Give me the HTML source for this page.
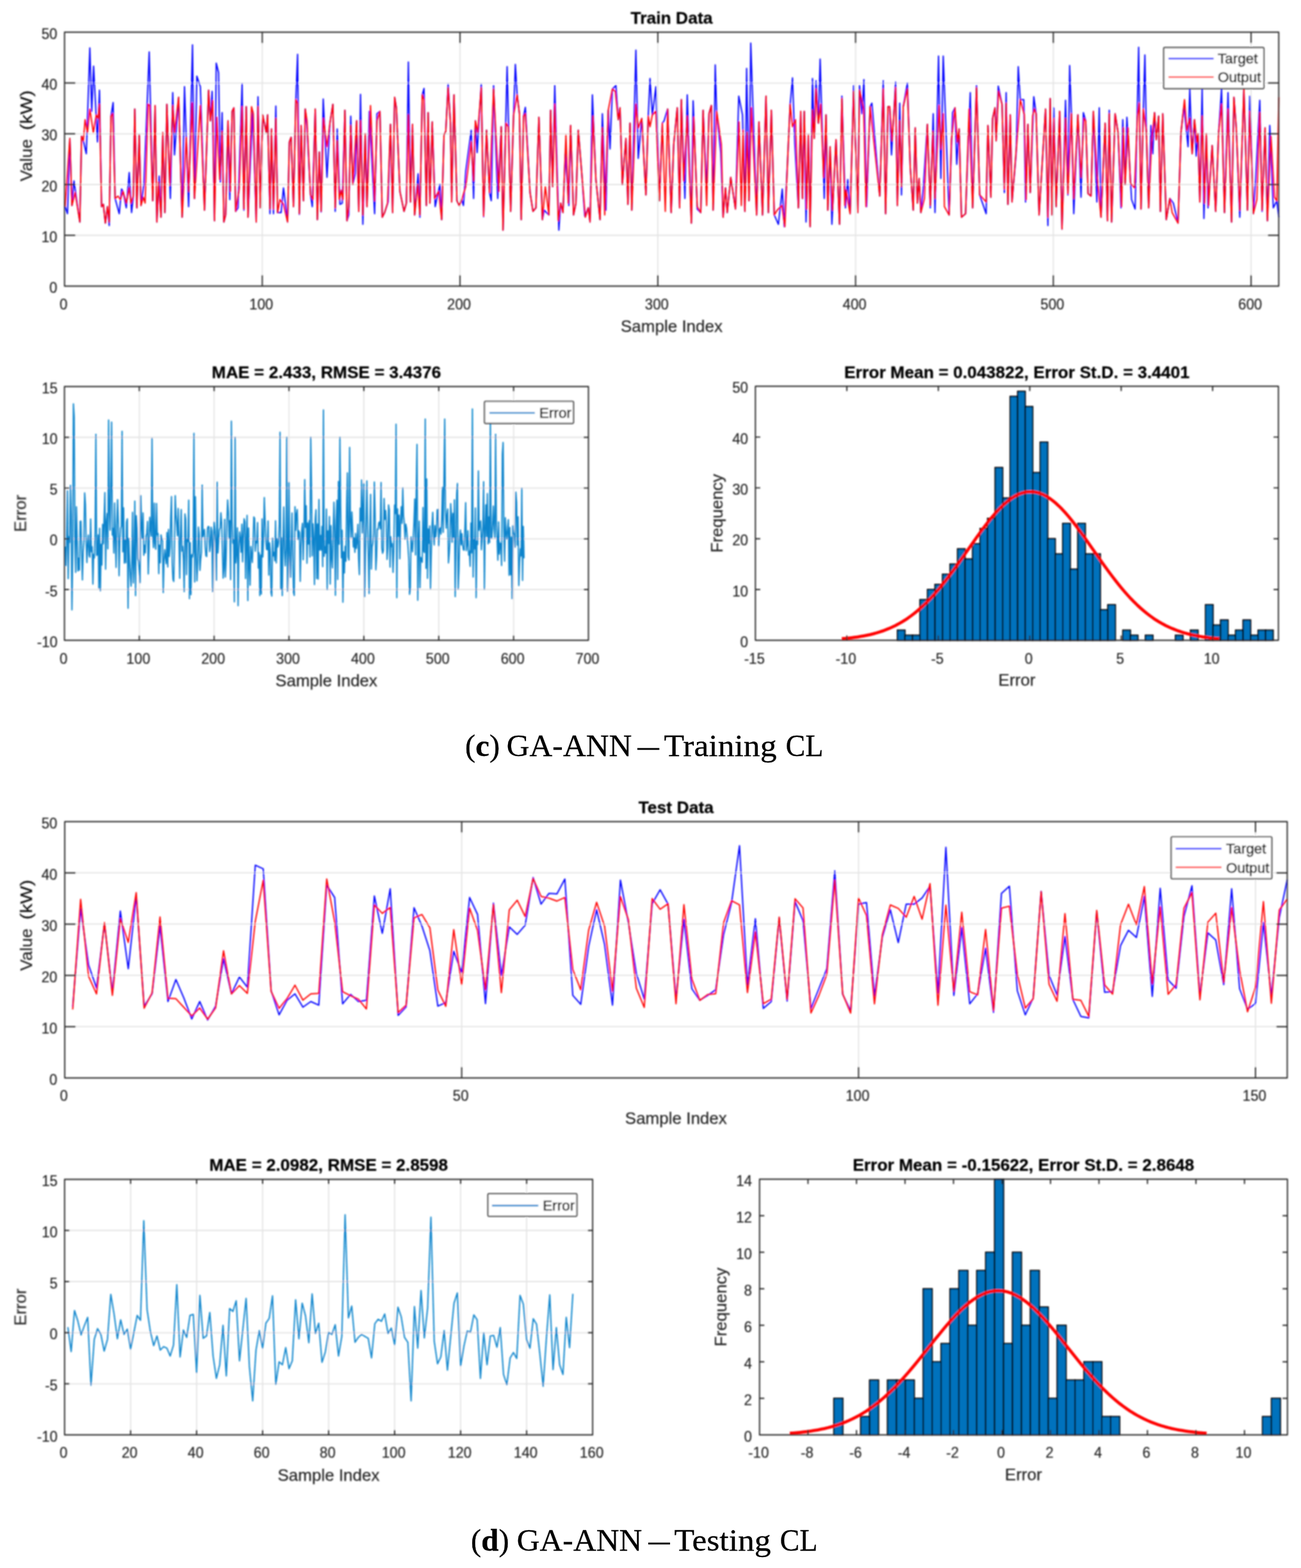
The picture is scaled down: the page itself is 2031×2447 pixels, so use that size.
<!DOCTYPE html>
<html><head><meta charset="utf-8"><title>GA-ANN CL</title>
<style>html,body{margin:0;padding:0;background:#fff}body{width:2031px;height:2447px;overflow:hidden}svg{display:block}</style>
</head><body>
<svg width="2031" height="2447" viewBox="0 0 2031 2447">
<style>text{font-family:'Liberation Sans', Arial, Helvetica, sans-serif;fill:#262626;stroke:#262626;stroke-width:0.25px}.tk{font-size:24.5px}.lb{font-size:26px}.tt{font-size:26.5px;font-weight:bold;fill:#000;stroke:#000;stroke-width:0.3px}.lg{font-size:22.5px;fill:#000;stroke:#000;stroke-width:0.5px}.cap{font-family:'Liberation Serif', 'Times New Roman', serif;font-size:49px;fill:#000;stroke:#000;stroke-width:0.3px}</style>
<rect width="2031" height="2447" fill="#fff"/>
<defs><filter id="bl" x="0" y="0" width="100%" height="100%" filterUnits="userSpaceOnUse"><feGaussianBlur stdDeviation="1.1"/></filter></defs><g filter="url(#bl)">
<path d="M409.43 50.3V446.5M718.16 50.3V446.5M1026.89 50.3V446.5M1335.62 50.3V446.5M1644.35 50.3V446.5M1953.08 50.3V446.5M100.7 367.26H1996.3M100.7 288.02H1996.3M100.7 208.78H1996.3M100.7 129.54H1996.3" stroke="#e4e4e4" stroke-width="1.8" fill="none"/>
<polyline points="101.67,322.53 105.34,333.55 109.02,216.05 112.32,320.69 115.44,282.14 124.62,346.4 127.37,212.38 130.13,219.72 134.72,239.92 140.23,74.69 143.16,173.82 146.1,103.14 152.16,221.56 155.28,140.78 158.58,322.53 161.34,318.86 164.46,348.23 167.76,322.53 170.52,351.9 173.27,181.17 176.58,160.06 179.7,309.68 186.12,333.55 189.79,294.99 192,298.66 197.14,324.37 201.73,269.29 205.4,331.71 208.15,306.01 210.36,170.15 213.66,324.37 217.33,210.54 220.09,320.69 224.68,287.65 232.94,81.11 238.44,313.35 242.12,164.64 244.87,346.4 248.54,274.8 251.3,339.05 254.05,206.87 257.35,331.71 260.47,162.81 265.98,309.68 269.65,144.45 272.41,241.75 278.83,151.79 284.34,339.05 288.01,135.27 290.77,214.21 294.44,322.53 300.5,70.1 303.62,309.68 307.29,118.75 312.8,135.27 319.22,328.04 325.65,140.78 328.4,188.51 331.16,142.61 334.83,344.56 337.58,98.55 341.25,113.24 344.01,283.98 346.76,175.66 349.51,346.4 352.27,335.38 355.94,188.51 358.69,311.51 362.37,173.82 365.12,168.32 367.87,329.87 371.55,324.37 377.97,130.68 380.72,328.04 384.4,166.48 387.15,339.05 394.49,173.82 400,346.4 402.75,150.88 406.43,324.37 410.1,179.33 415.61,206.87 417.75,179.33 421.43,333.55 423.81,201.36 426.93,333.55 430.6,165.56 433.36,331.71 438.87,331.71 442.54,293.16 448.96,346.4 451.72,221.56 454.47,214.21 458.14,322.53 461.81,155.47 464.57,84.78 467.32,334.46 470.08,195.85 473.75,313.35 476.5,170.15 479.26,199.53 484.76,304.17 487.52,322.53 492.11,170.15 495.41,342.72 498.53,237.16 501.29,330.79 504.59,154.55 510.47,276.63 515.06,192.18 519.64,162.81 523.32,329.87 526.44,201.36 530.66,318.86 534.33,317.02 538.37,171.99 541.68,344.56 544.43,335.38 547.55,181.17 550.85,287.65 554.53,271.13 556.73,188.51 560.03,329.87 562.79,147.2 566.46,350.07 570.13,208.71 572.89,322.53 576.56,173.82 584.82,333.55 588.49,177.5 593.08,173.82 596.75,339.05 600.42,331.71 605.93,315.19 609.6,194.02 612.91,331.71 616.03,151.79 618.78,168.32 624.29,298.66 630.72,329.87 634.39,317.02 637.51,96.72 640.81,315.19 643.93,194.02 647.24,335.38 652.75,271.13 655.5,339.05 659.17,148.12 661.92,138.02 665.6,320.69 668.35,175.66 671.1,317.02 674.78,190.35 679.37,322.53 686.71,287.65 689.46,342.72 693.13,210.54 695.89,205.03 699.56,131.6 703.23,192.18 705.07,315.19 708.74,148.12 713.33,313.35 717,320.69 720.67,311.51 723.43,320.69 727.1,267.45 735.67,203.2 739.34,309.68 742.1,188.51 744.85,238.08 751.28,131.6 754.95,338.13 759.54,203.2 764.13,300.5 766.88,313.35 770.55,133.43 776.98,309.68 782.49,197.69 785.24,359.25 791.67,104.06 797.17,329.87 801.76,179.33 804.52,100.39 807.27,148.12 810.94,177.5 813.7,342.72 817.37,181.17 820.12,167.4 827.47,300.5 832.06,329.87 836.64,324.37 841.23,183 846.74,342.72 849.5,328.04 856.84,335.38 859.59,171.99 862.71,291.32 866.02,133.43 872.44,359.25 875.2,317.02 878.87,331.71 882.54,239.92 888.05,320.69 890.8,195.85 895.39,335.38 899.06,317.02 902.74,203.2 908.24,271.13 912.83,337.22 918.34,324.37 921.09,346.4 924.77,148.12 930.27,280.3 936.7,342.72 940.37,177.5 945.88,328.04 949.55,171.99 952.3,232.57 955.98,138.94 961.48,133.43 965.16,186.68 967.91,168.32 971.58,287.65 977.09,216.05 980.21,318.86 983.51,192.18 986.27,328.04 992.69,78.36 996.37,247.26 1001.87,184.84 1008.3,304.17 1011.97,181.17 1014.72,122.42 1018.4,179.33 1023.9,135.27 1029.41,313.35 1034,192.18 1036.75,188.51 1042.26,170.15 1047.77,331.71 1051.75,225.23 1057.26,168.32 1060.93,324.37 1063.69,155.47 1069.19,309.68 1072.87,148.12 1079.29,348.23 1082.05,157.3 1088.47,326.2 1093.98,331.71 1097.65,171.99 1103.16,294.99 1106.83,177.5 1110.5,164.64 1113.26,328.04 1116.56,101.31 1118.76,173.82 1125.19,238.08 1128.86,339.05 1132.53,293.16 1135.29,331.71 1140.79,276.63 1148.14,326.2 1153.28,149.96 1159.15,179.33 1162.82,329.87 1165.58,106.81 1169.25,313.35 1172,67.34 1181.18,335.38 1184.85,190.35 1190.36,335.38 1195.87,149.96 1199.54,331.71 1204.13,171.99 1208.72,335.38 1215.15,350.07 1221.2,294.99 1224.33,353.74 1229.83,243.59 1233.51,162.81 1237.18,121.5 1240.85,225.23 1246.36,324.37 1250.03,173.82 1252.78,309.68 1255.54,173.82 1258.29,346.4 1261.96,210.54 1264.72,353.74 1268.39,122.42 1271.14,216.05 1273.89,126.09 1277.57,192.18 1280.32,92.13 1286.75,309.68 1289.5,179.33 1292.25,328.04 1295.92,228.9 1298.68,350.07 1305.1,217.89 1310.61,350.07 1314.28,149.96 1319.79,324.37 1323.46,280.3 1327.13,333.55 1332.64,133.43 1339.07,331.71 1341.82,133.43 1345.49,177.5 1348.61,124.26 1352.84,322.53 1358.34,166.48 1361.1,160.97 1373.34,306.01 1378.85,126.09 1382.52,333.55 1386.19,166.48 1388.95,166.48 1391.7,241.75 1398.13,127.93 1400.88,320.69 1404.55,160.97 1407.31,304.17 1410.06,166.48 1416.49,129.76 1421.08,261.95 1425.67,328.04 1428.79,199.53 1432.09,317.02 1434.85,278.47 1437.6,331.71 1441.27,294.99 1447.7,194.02 1452.29,324.37 1456.88,177.5 1459.63,331.71 1465.14,87.54 1468.81,278.47 1472.48,87.54 1481.66,335.38 1487.17,175.66 1490.84,168.32 1493.59,256.44 1497.26,201.36 1500.94,339.05 1507.36,333.55 1514.71,144.45 1518.38,324.37 1524.44,133.43 1529.39,304.17 1539.49,333.55 1542.24,195.85 1546.83,307.84 1549.59,184.84 1553.26,168.32 1555.09,219.72 1558.4,134.35 1564.27,162.81 1567.95,300.5 1570.7,144.45 1573.45,318.86 1577.13,179.33 1579.88,315.19 1586.3,239.92 1589.61,104.06 1592.73,155.47 1598.24,155.47 1600.99,315.19 1604.66,194.02 1608.34,300.5 1613.84,150.88 1617.51,177.5 1622.1,335.38 1632.2,170.15 1635.87,351.9 1639.55,153.63 1642.3,335.38 1645.05,168.32 1648.72,322.53 1654.23,173.82 1657.9,357.41 1663.41,156.38 1667.08,304.17 1669.84,102.23 1672.59,177.5 1676.26,333.55 1682.69,179.33 1687.59,307.84 1691.26,175.66 1694.93,188.51 1698.6,302.34 1703.19,306.01 1706.87,173.82 1712.37,315.19 1716.05,168.32 1718.8,339.05 1725.23,192.18 1728.9,344.56 1731.65,171.99 1735.32,346.4 1740.83,177.5 1745.42,206.87 1750.01,324.37 1752.76,186.68 1756.43,287.65 1759.19,183 1766.53,311.51 1772.04,326.2 1777.55,73.77 1781.22,326.2 1784.89,170.15 1787.28,85.7 1789.48,203.2 1793.15,324.37 1796.82,195.85 1799.58,239.92 1802.33,175.66 1805.09,217.89 1808.76,181.17 1811.51,329.87 1815.18,177.5 1820.69,342.72 1826.2,309.68 1831.71,317.02 1839.05,348.23 1843.64,206.87 1848.23,166.48 1854.65,228.9 1857.41,138.94 1861.08,239.92 1864.75,186.68 1867.51,243.59 1870.26,208.71 1873.01,315.19 1876.68,138.94 1879.44,340.89 1883.11,208.71 1885.86,324.37 1892.29,227.06 1897.8,329.87 1902.39,206.87 1906.98,138.94 1911.57,331.71 1917.07,144.45 1922.58,346.4 1926.25,151.79 1929.92,199.53 1935.43,339.05 1941.86,138.94 1947.37,328.04 1951.04,149.96 1956.55,333.55 1960.22,280.3 1966.64,156.38 1970.31,329.87 1974.9,199.53 1978.58,344.56 1982.25,195.85 1987.75,324.37 1993.26,313.35 1996.38,339.05" fill="none" stroke="#0000ff" stroke-width="2.0" stroke-linejoin="round" stroke-opacity="1"/>
<polyline points="101.67,322.53 109.02,216.05 112.32,320.69 117.28,300.5 124.62,346.4 127.37,212.38 130.13,219.72 132.88,186.68 136.55,206.87 140.23,170.15 145.73,206.87 150.32,179.33 153.08,184.84 155.28,162.81 158.58,322.53 161.34,318.86 164.46,348.23 167.76,322.53 170.52,346.4 173.27,181.17 176.02,177.5 179.7,309.68 184.29,306.01 187.96,311.51 192,298.66 197.14,317.02 201.73,293.16 204.48,317.02 208.15,306.01 210.36,170.15 213.66,324.37 217.33,210.54 220.09,320.69 223.76,307.84 226.51,317.02 231.1,162.81 233.85,164.64 238.44,313.35 242.12,164.64 244.87,346.4 247.62,283.98 251.3,339.05 254.05,206.87 257.35,331.71 260.47,162.81 265.06,289.48 269.65,164.64 272.41,206.87 278.83,151.79 284.34,339.05 290.77,214.21 294.44,298.66 299.95,160.97 303.62,309.68 312.8,164.64 319.22,328.04 325.65,140.78 328.4,188.51 332.07,157.3 334.83,344.56 338.5,183 343.09,280.3 346.76,205.03 349.51,346.4 352.27,335.38 355.94,188.51 359.61,298.66 362.37,173.82 365.12,168.32 367.87,329.87 373.38,294.99 377.97,166.48 380.72,326.2 384.4,166.48 387.15,339.05 392.66,166.48 395.41,177.5 400,346.4 402.75,166.48 406.43,324.37 410.1,179.33 415.61,206.87 417.75,179.33 421.43,326.2 423.81,201.36 426.93,326.2 430.6,184.84 433.36,331.71 437.03,311.51 442.54,318.86 448.96,346.4 451.72,221.56 454.47,214.21 458.14,322.53 461.81,155.47 464.57,160.97 467.32,333.55 470.08,195.85 473.75,313.35 476.5,170.15 479.26,188.51 484.76,304.17 488.43,311.51 492.11,170.15 495.41,342.72 498.53,237.16 501.29,329.87 504.96,184.84 510.47,228.9 515.06,192.18 519.64,162.81 523.32,324.37 526.44,219.72 529.74,311.51 532.5,296.83 535.25,311.51 538.37,171.99 541.68,344.56 544.43,322.53 547.55,195.85 550.85,287.65 556.73,188.51 560.03,329.87 562.79,188.51 566.46,335.38 570.13,208.71 572.89,322.53 578.39,164.64 584.82,313.35 588.49,188.51 593.08,173.82 596.75,339.05 600.42,331.71 605.01,317.02 609.6,194.02 612.91,331.71 616.03,151.79 618.78,168.32 624.29,298.66 630.72,329.87 634.39,317.02 637.51,179.33 640.81,315.19 643.93,194.02 647.24,335.38 652.19,287.65 655.5,335.38 659.17,148.12 661.92,155.47 665.6,320.69 668.35,175.66 671.1,317.02 674.78,190.35 678.45,309.68 684.87,298.66 689.46,342.72 693.13,210.54 695.89,205.03 699.56,137.11 703.23,192.18 705.07,315.19 708.74,148.12 713.33,313.35 717,320.69 720.67,311.51 727.1,291.32 735.67,221.56 739.34,282.14 742.1,188.51 745.77,206.87 751.28,137.11 754.95,337.22 759.54,203.2 764.13,300.5 770.55,138.94 778.81,298.66 782.49,197.69 785.24,359.25 789.83,192.18 793.5,197.69 797.17,329.87 801.76,179.33 807.27,148.12 810.94,177.5 813.7,342.72 817.37,181.17 820.12,177.5 827.47,300.5 832.06,329.87 836.64,324.37 841.23,183 846.74,342.72 851.33,291.32 856.84,335.38 859.59,171.99 862.71,291.32 866.02,162.81 871.53,344.56 875.2,317.02 878.87,331.71 883.46,210.54 887.13,317.02 890.8,195.85 895.39,335.38 899.06,317.02 902.74,203.2 908.24,271.13 913.75,339.05 918.34,324.37 921.09,346.4 925.68,181.17 930.27,280.3 936.7,342.72 940.37,199.53 944.04,335.38 949.55,171.99 955.98,138.94 960.57,142.61 965.16,186.68 967.91,168.32 971.58,287.65 977.09,216.05 980.21,318.86 983.51,192.18 986.27,328.04 992.69,162.81 996.37,199.53 1001.87,184.84 1008.3,304.17 1011.97,181.17 1014.72,197.69 1018.4,179.33 1023.9,173.82 1029.41,313.35 1034,192.18 1038.59,329.87 1042.26,170.15 1047.77,331.71 1051.75,225.23 1057.26,168.32 1060.93,324.37 1063.69,155.47 1067.36,282.14 1072.87,181.17 1079.29,348.23 1082.96,183 1088.47,322.53 1093.98,331.71 1097.65,171.99 1103.16,320.69 1106.83,177.5 1110.5,164.64 1113.26,328.04 1118.76,173.82 1126.11,225.23 1128.86,339.05 1132.53,293.16 1135.29,331.71 1140.79,276.63 1148.14,326.2 1153.64,190.35 1157.32,320.69 1160.07,203.2 1162.82,329.87 1166.5,206.87 1169.25,313.35 1172.92,168.32 1181.18,335.38 1184.85,190.35 1190.36,335.38 1195.87,149.96 1199.54,331.71 1204.13,171.99 1208.72,335.38 1213.31,328.04 1220.65,320.69 1225.24,353.74 1229.83,243.59 1233.51,162.81 1237.18,197.69 1241.77,186.68 1246.36,324.37 1250.03,173.82 1252.78,309.68 1255.54,173.82 1259.21,326.2 1261.96,210.54 1264.72,353.74 1268.39,171.99 1271.14,216.05 1273.89,138.94 1277.57,192.18 1281.24,162.81 1285.83,276.63 1289.5,179.33 1292.25,328.04 1295.92,228.9 1299.6,328.04 1305.1,217.89 1310.61,350.07 1314.28,153.63 1318.87,320.69 1320.71,296.83 1327.13,333.55 1332.64,142.61 1339.07,331.71 1341.82,140.78 1348.25,170.15 1351.92,322.53 1358.34,166.48 1373.34,306.01 1378.85,138.94 1382.52,333.55 1386.19,166.48 1388.95,166.48 1392.62,219.72 1398.13,137.11 1400.88,320.69 1404.55,188.51 1407.31,291.32 1410.06,166.48 1416.49,138.94 1421.08,261.95 1425.67,328.04 1428.79,199.53 1432.09,317.02 1434.85,278.47 1437.6,331.71 1443.11,309.68 1447.7,194.02 1452.29,320.69 1456.32,205.03 1459.63,309.68 1466.06,164.64 1468.81,232.57 1472.48,177.5 1474.32,322.53 1481.66,335.38 1485.33,217.89 1490.84,168.32 1494.51,221.56 1497.26,201.36 1500.94,339.05 1507.36,333.55 1512.87,170.15 1518.38,324.37 1524.44,137.11 1529.39,304.17 1539.49,315.19 1542.24,195.85 1546.83,307.84 1549.59,184.84 1553.26,168.32 1555.09,219.72 1558.77,142.61 1564.27,162.81 1567.95,294.99 1570.7,160.97 1573.45,318.86 1577.13,179.33 1579.88,315.19 1589.06,201.36 1592.73,155.47 1599.16,179.33 1601.91,311.51 1604.66,194.02 1608.34,300.5 1612.01,181.17 1614.76,170.15 1617.51,177.5 1622.1,335.38 1632.2,170.15 1635.87,339.05 1639.55,153.63 1642.3,335.38 1645.05,184.84 1648.72,322.53 1654.23,173.82 1657.9,357.41 1663.41,184.84 1667.08,302.34 1672.59,177.5 1676.26,309.68 1682.69,179.33 1687.59,276.63 1692.18,184.84 1694.93,188.51 1698.6,302.34 1703.19,306.01 1706.87,173.82 1712.37,271.13 1718.8,339.05 1725.23,192.18 1728.9,344.56 1731.65,177.5 1735.32,346.4 1740.83,177.5 1745.42,206.87 1750.93,322.53 1753.68,199.53 1756.43,287.65 1761.02,199.53 1764.7,285.81 1771.12,293.16 1775.71,181.17 1778.47,160.97 1781.22,326.2 1784.89,170.15 1789.48,203.2 1793.15,324.37 1797.74,221.56 1802.33,175.66 1805.09,217.89 1808.76,181.17 1811.51,329.87 1815.18,177.5 1820.69,342.72 1826.2,309.68 1829.87,331.71 1839.05,348.23 1843.64,206.87 1849.15,155.47 1852.82,203.2 1857.41,184.84 1861.08,239.92 1864.75,186.68 1868.42,221.56 1870.26,208.71 1873.01,315.19 1876.68,181.17 1880.36,317.02 1883.11,208.71 1886.78,320.69 1892.29,227.06 1897.8,329.87 1902.39,206.87 1906.98,162.81 1911.57,331.71 1917.07,170.15 1922.58,346.4 1926.25,151.79 1929.92,199.53 1935.43,328.04 1941.86,138.94 1947.37,328.04 1951.04,173.82 1956.55,333.55 1962.05,311.51 1966.64,175.66 1970.31,328.04 1974.9,199.53 1978.58,344.56 1984.08,212.38 1989.59,307.84 1993.26,313.35 1996.38,151.79" fill="none" stroke="#ff0000" stroke-width="2.0" stroke-linejoin="round" stroke-opacity="1"/>
<path d="M409.43 446.5v-17M409.43 50.3v17M718.16 446.5v-17M718.16 50.3v17M1026.89 446.5v-17M1026.89 50.3v17M1335.62 446.5v-17M1335.62 50.3v17M1644.35 446.5v-17M1644.35 50.3v17M1953.08 446.5v-17M1953.08 50.3v17M100.7 367.26h17M1996.3 367.26h-17M100.7 288.02h17M1996.3 288.02h-17M100.7 208.78h17M1996.3 208.78h-17M100.7 129.54h17M1996.3 129.54h-17" stroke="#262626" stroke-width="1.9" fill="none"/>
<rect x="100.7" y="50.3" width="1895.6" height="396.2" fill="none" stroke="#262626" stroke-width="1.9" stroke-linejoin="round"/>
<text transform="translate(99.2 482.5) scale(0.91 1)" text-anchor="middle" class="tk">0</text>
<text transform="translate(407.93 482.5) scale(0.91 1)" text-anchor="middle" class="tk">100</text>
<text transform="translate(716.66 482.5) scale(0.91 1)" text-anchor="middle" class="tk">200</text>
<text transform="translate(1025.39 482.5) scale(0.91 1)" text-anchor="middle" class="tk">300</text>
<text transform="translate(1334.12 482.5) scale(0.91 1)" text-anchor="middle" class="tk">400</text>
<text transform="translate(1642.85 482.5) scale(0.91 1)" text-anchor="middle" class="tk">500</text>
<text transform="translate(1951.58 482.5) scale(0.91 1)" text-anchor="middle" class="tk">600</text>
<text transform="translate(89.5 457.1) scale(0.91 1)" text-anchor="end" class="tk">0</text>
<text transform="translate(89.5 377.86) scale(0.91 1)" text-anchor="end" class="tk">10</text>
<text transform="translate(89.5 298.62) scale(0.91 1)" text-anchor="end" class="tk">20</text>
<text transform="translate(89.5 219.38) scale(0.91 1)" text-anchor="end" class="tk">30</text>
<text transform="translate(89.5 140.14) scale(0.91 1)" text-anchor="end" class="tk">40</text>
<text transform="translate(89.5 60.9) scale(0.91 1)" text-anchor="end" class="tk">50</text>
<text x="1048.5" y="37" text-anchor="middle" class="tt" >Train Data</text>
<text x="1048.5" y="518" text-anchor="middle" class="lb" >Sample Index</text>
<text transform="translate(50 283) rotate(-90)" class="lb" textLength="66" lengthAdjust="spacingAndGlyphs">Value</text>
<text transform="translate(50 203) rotate(-90)" class="lb" textLength="62" lengthAdjust="spacingAndGlyphs" style="fill:#111">(kW)</text>
<rect x="1816.7" y="74.2" width="156.3" height="64" fill="#fff" stroke="#262626" stroke-width="1.9" rx="1.5"/>
<path d="M1824 91.4H1894.5" stroke="#0000ff" stroke-width="2.2"/>
<text x="1901" y="99.4" class="lg">Target</text>
<path d="M1824 120.2H1894.5" stroke="#ff0000" stroke-width="2.2"/>
<text x="1901" y="128.2" class="lg">Output</text>
<path d="M217.46 603.3V999.2M334.31 603.3V999.2M451.17 603.3V999.2M568.03 603.3V999.2M684.89 603.3V999.2M801.74 603.3V999.2M100.6 920.02H918.6M100.6 840.84H918.6M100.6 761.66H918.6M100.6 682.48H918.6" stroke="#e4e4e4" stroke-width="1.8" fill="none"/>
<polyline points="101.77,853.01 102.94,882.38 104.11,839.99 105.27,765.98 106.44,902.95 107.61,837.51 108.78,846.39 109.95,757.41 111.12,802.63 112.29,951.69 113.45,863.51 114.62,630.22 115.79,650.81 116.96,845.91 118.13,893.34 119.3,791.11 120.47,839.9 121.63,891.06 122.8,870.93 123.97,889.66 125.14,813.59 126.31,813.23 127.48,860.31 128.65,905.07 129.81,861.28 130.98,843.71 132.15,769.25 133.32,787.57 134.49,844.74 135.66,877.86 136.83,847.83 137.99,834.93 139.16,867.02 140.33,869.57 141.5,809.9 142.67,861.02 143.84,853.3 145.01,911.5 146.17,864.98 147.34,870.6 148.51,829.72 149.68,677.73 150.85,866.66 152.02,865.57 153.19,834.75 154.35,917.96 155.52,824.41 156.69,921.98 157.86,849.36 159.03,881.71 160.2,818.18 161.37,848.52 162.53,808.34 163.7,768.84 164.87,888.19 166.04,815.02 167.21,801.21 168.38,856.55 169.55,655.56 170.71,797.05 171.88,827.35 173.05,752.08 174.22,658.73 175.39,835.05 176.56,824.59 177.73,863.01 178.89,785.12 180.06,839.9 181.23,885.53 182.4,819.29 183.57,779.64 184.74,817.91 185.91,898.56 187.07,845.33 188.24,824.98 189.41,820.98 190.58,672.98 191.75,861.24 192.92,792.61 194.09,878.79 195.25,842.74 196.42,878.23 197.59,814.82 198.76,809.66 199.93,949.32 201.1,840.34 202.27,874.72 203.43,898.37 204.6,914.81 205.77,878.42 206.94,799.46 208.11,909.65 209.28,877.46 210.45,782.01 211.61,929.52 212.78,804.73 213.95,824.22 215.12,872.13 216.29,875.68 217.46,891.8 218.63,909.44 219.79,773.52 220.96,818.24 222.13,839.96 223.3,800.41 224.47,866.56 225.64,850.96 226.81,862.69 227.97,836.84 229.14,832.15 230.31,813.87 231.48,895.81 232.65,856.26 233.82,807.23 234.99,823.85 236.15,836.55 237.32,684.06 238.49,837.78 239.66,854.62 240.83,785.22 242,848.01 243.17,857.07 244.33,785.65 245.5,834.65 246.67,832.56 247.84,895.3 249.01,850.65 250.18,878.29 251.35,834.85 252.51,840.41 253.68,843.54 254.85,924.77 256.02,874.21 257.19,857.83 258.36,870.97 259.53,879.62 260.69,831.11 261.86,884.84 263.03,826.21 264.2,868.51 265.37,854.11 266.54,806.45 267.71,775 268.87,879.25 270.04,904.19 271.21,907.49 272.38,850.99 273.55,773.6 274.72,802.76 275.89,818.3 277.05,836.07 278.22,793.47 279.39,840.4 280.56,902.55 281.73,835.91 282.9,795.24 284.07,859.94 285.23,852.85 286.4,873.34 287.57,923.19 288.74,802.09 289.91,810.34 291.08,896.72 292.25,841.71 293.41,845.25 294.58,780.45 295.75,934.23 296.92,846.91 298.09,927.94 299.26,865.7 300.43,869.46 301.59,861.1 302.76,676.15 303.93,908.26 305.1,775.28 306.27,863.86 307.44,906.41 308.61,878.3 309.77,822.54 310.94,834.15 312.11,890.09 313.28,872.74 314.45,861.86 315.62,757.02 316.79,837.65 317.95,831.96 319.12,826.21 320.29,853.14 321.46,867.29 322.63,868.44 323.8,825.45 324.97,821.57 326.13,821.98 327.3,860.74 328.47,851.53 329.64,822.63 330.81,829.03 331.98,923.19 333.15,846.91 334.31,814.63 335.48,826.77 336.65,848 337.82,905.43 338.99,752.47 340.16,862.87 341.33,844.55 342.49,826.64 343.66,824.09 344.83,800.14 346,815.93 347.17,857.54 348.34,902.26 349.51,887.53 350.67,810.43 351.84,900.53 353.01,871.38 354.18,815.12 355.35,780.31 356.52,798.66 357.69,839.61 358.85,812.51 360.02,904.61 361.19,657.14 362.36,814.3 363.53,847.77 364.7,842.5 365.87,939.19 367.03,682.48 368.2,878.42 369.37,860.43 370.54,823.7 371.71,945.36 372.88,856.52 374.05,830.28 375.21,841.29 376.38,861.71 377.55,818.1 378.72,876.8 379.89,838.94 381.06,809.42 382.23,813.98 383.39,902.86 384.56,840.68 385.73,804.35 386.9,937.15 388.07,823.97 389.24,883.31 390.41,913.29 391.57,852.94 392.74,865.92 393.91,877.69 395.08,845.57 396.25,806.8 397.42,808.72 398.59,860.14 399.75,845.01 400.92,847.04 402.09,815.57 403.26,886.52 404.43,862.4 405.6,929.52 406.77,866.35 407.93,927.02 409.1,809.86 410.27,869.32 411.44,839.3 412.61,776.42 413.78,812.09 414.95,842.37 416.11,857.53 417.28,857.73 418.45,813.1 419.62,897.57 420.79,847.2 421.96,860.74 423.13,924.77 424.29,930.2 425.46,839.65 426.63,867.43 427.8,862.1 428.97,875.14 430.14,812.71 431.31,878.59 432.47,840.73 433.64,853.87 434.81,848.17 435.98,818.07 437.15,674.56 438.32,919.19 439.49,839.53 440.65,929.52 441.82,846.58 442.99,791.28 444.16,857.67 445.33,883.02 446.5,857.95 447.67,682.48 448.83,922.73 450,880.87 451.17,753.03 452.34,864.66 453.51,900.87 454.68,851.19 455.85,800.44 457.01,866.77 458.18,924.23 459.35,929.31 460.52,790.82 461.69,827.39 462.86,802.22 464.03,795.3 465.19,841.67 466.36,828.3 467.53,830.9 468.7,907.17 469.87,852.54 471.04,827.53 472.21,816.85 473.37,873.54 474.54,830.18 475.71,748.56 476.88,822.89 478.05,789.26 479.22,878.88 480.39,816.13 481.55,848.92 482.72,812.43 483.89,869.14 485.06,682.48 486.23,755.17 487.4,867.48 488.57,817.53 489.73,840.12 490.9,912.22 492.07,810.46 493.24,795.59 494.41,902.96 495.58,817.73 496.75,903.7 497.91,779.46 499.08,858.49 500.25,835.43 501.42,858.53 502.59,821.52 503.76,884.27 504.93,639.72 506.09,868.22 507.26,853.24 508.43,863.01 509.6,794.51 510.77,920.02 511.94,828.53 513.11,847.99 514.27,806.16 515.44,911.49 516.61,820.15 517.78,870.05 518.95,886.27 520.12,833.66 521.29,783.83 522.45,828.68 523.62,929 524.79,812.34 525.96,780.6 527.13,904.14 528.3,751.6 529.47,849.31 530.63,682.48 531.8,791.04 532.97,870.51 534.14,827.4 535.31,939.82 536.48,861.31 537.65,894.11 538.81,852.61 539.98,875.75 541.15,788.6 542.32,737.91 543.49,869.19 544.66,874.04 545.83,698.32 546.99,812.18 548.16,838.66 549.33,798.96 550.5,826.41 551.67,853.61 552.84,839.44 554.01,862.01 555.17,832.45 556.34,855.83 557.51,845.29 558.68,818.19 559.85,873.29 561.02,896.64 562.19,793 563.35,812.96 564.52,749.01 565.69,831.76 566.86,794.31 568.03,754.75 569.2,931.11 570.37,865.54 571.53,810.91 572.7,750.57 573.87,826.89 575.04,868.08 576.21,926.35 577.38,830.75 578.55,771.4 579.71,887.91 580.88,853.28 582.05,847.79 583.22,832.43 584.39,752.13 585.56,803.19 586.73,889.17 587.89,868.72 589.06,825.79 590.23,825.9 591.4,815.78 592.57,814.32 593.74,825.15 594.91,752.96 596.07,855.12 597.24,863.48 598.41,859.36 599.58,777.94 600.75,810.4 601.92,796.8 603.09,814.72 604.25,872.98 605.42,854.7 606.59,788.03 607.76,795.87 608.93,885.01 610.1,837.86 611.27,852.94 612.43,848.36 613.6,893.25 614.77,858.07 615.94,788.27 617.11,801.58 618.28,661.89 619.45,932.69 620.61,794.25 621.78,836.39 622.95,803.71 624.12,872.1 625.29,812.45 626.46,790.69 627.63,816.7 628.79,761.51 629.96,805.22 631.13,815.08 632.3,841.5 633.47,818.02 634.64,824.13 635.81,838.63 636.97,853.96 638.14,872.33 639.31,927.51 640.48,920.16 641.65,837.92 642.82,849.74 643.99,861.06 645.15,837.74 646.32,813.18 647.49,778.69 648.66,865.97 649.83,762.48 651,693.57 652.17,936.85 653.33,844.79 654.5,813.28 655.67,917.14 656.84,869.83 658.01,873.97 659.18,877.53 660.35,792.02 661.51,860.65 662.68,862.21 663.85,653.98 665.02,887.02 666.19,747.62 667.36,902.4 668.53,825.57 669.69,847.69 670.86,820.79 672.03,918.64 673.2,866.81 674.37,820.96 675.54,799.45 676.71,832.01 677.87,850.45 679.04,820.17 680.21,837.82 681.38,826.31 682.55,795.78 683.72,794.87 684.89,851.68 686.05,826.14 687.22,823.81 688.39,833.55 689.56,810.72 690.73,760.62 691.9,830.63 693.07,748.78 694.23,653.98 695.4,795.72 696.57,824.27 697.74,803.69 698.91,794.38 700.08,878.5 701.25,864.24 702.41,843.54 703.58,785.98 704.75,802.95 705.92,846.26 707.09,801.31 708.26,838.59 709.43,780.1 710.59,931.11 711.76,861.59 712.93,771.16 714.1,754.61 715.27,919.19 716.44,890.38 717.61,840.51 718.77,827.17 719.94,850.32 721.11,832.79 722.28,850.08 723.45,858.15 724.62,858.62 725.79,823.8 726.95,784.58 728.12,859.27 729.29,849.45 730.46,828.3 731.63,866.31 732.8,860.11 733.97,883.72 735.13,816.33 736.3,862.84 737.47,638.14 738.64,900.47 739.81,842.23 740.98,856.56 742.15,792.63 743.31,932.63 744.48,844.43 745.65,849.83 746.82,735.02 747.99,827.52 749.16,816.61 750.33,813.07 751.49,857.85 752.66,840.92 753.83,821.02 755,751.82 756.17,919.6 757.34,827.73 758.51,787.77 759.67,837.3 760.84,770.35 762.01,848.68 763.18,806.87 764.35,846.67 765.52,657.14 766.69,839.27 767.85,839.5 769.02,817.71 770.19,789.78 771.36,824.42 772.53,839.36 773.7,677.73 774.87,815.39 776.03,841.68 777.2,874.25 778.37,814.43 779.54,864.7 780.71,847.46 781.88,848.36 783.05,882.5 784.21,709.4 785.38,690.4 786.55,823.95 787.72,875.65 788.89,807.96 790.06,831.67 791.23,840.99 792.39,824.61 793.56,811.09 794.73,897.85 795.9,823.29 797.07,896.91 798.24,838.24 799.41,934.23 800.57,820.42 801.74,833.09 802.91,833.15 804.08,854.01 805.25,767.89 806.42,783.83 807.59,850.84 808.75,806.6 809.92,913.69 811.09,878.46 812.26,856.59 813.43,867.71 814.6,761.95 815.77,905.77 816.93,821.59 818.1,871.35" fill="none" stroke="#0a84cc" stroke-width="2.0" stroke-linejoin="round" stroke-opacity="1"/>
<path d="M217.46 999.2v-7.5M217.46 603.3v7.5M334.31 999.2v-7.5M334.31 603.3v7.5M451.17 999.2v-7.5M451.17 603.3v7.5M568.03 999.2v-7.5M568.03 603.3v7.5M684.89 999.2v-7.5M684.89 603.3v7.5M801.74 999.2v-7.5M801.74 603.3v7.5M100.6 920.02h7.5M918.6 920.02h-7.5M100.6 840.84h7.5M918.6 840.84h-7.5M100.6 761.66h7.5M918.6 761.66h-7.5M100.6 682.48h7.5M918.6 682.48h-7.5" stroke="#262626" stroke-width="1.9" fill="none"/>
<rect x="100.6" y="603.3" width="818" height="395.9" fill="none" stroke="#262626" stroke-width="1.9" stroke-linejoin="round"/>
<text transform="translate(99.1 1036) scale(0.91 1)" text-anchor="middle" class="tk">0</text>
<text transform="translate(215.96 1036) scale(0.91 1)" text-anchor="middle" class="tk">100</text>
<text transform="translate(332.81 1036) scale(0.91 1)" text-anchor="middle" class="tk">200</text>
<text transform="translate(449.67 1036) scale(0.91 1)" text-anchor="middle" class="tk">300</text>
<text transform="translate(566.53 1036) scale(0.91 1)" text-anchor="middle" class="tk">400</text>
<text transform="translate(683.39 1036) scale(0.91 1)" text-anchor="middle" class="tk">500</text>
<text transform="translate(800.24 1036) scale(0.91 1)" text-anchor="middle" class="tk">600</text>
<text transform="translate(917.1 1036) scale(0.91 1)" text-anchor="middle" class="tk">700</text>
<text transform="translate(90 1009.8) scale(0.91 1)" text-anchor="end" class="tk">-10</text>
<text transform="translate(90 930.62) scale(0.91 1)" text-anchor="end" class="tk">-5</text>
<text transform="translate(90 851.44) scale(0.91 1)" text-anchor="end" class="tk">0</text>
<text transform="translate(90 772.26) scale(0.91 1)" text-anchor="end" class="tk">5</text>
<text transform="translate(90 693.08) scale(0.91 1)" text-anchor="end" class="tk">10</text>
<text transform="translate(90 613.9) scale(0.91 1)" text-anchor="end" class="tk">15</text>
<text x="509.6" y="590" text-anchor="middle" class="tt" >MAE = 2.433, RMSE = 3.4376</text>
<text x="509.6" y="1071" text-anchor="middle" class="lb" >Sample Index</text>
<text transform="translate(40.5 801.25) rotate(-90)" text-anchor="middle" class="lb">Error</text>
<rect x="756.4" y="626.4" width="138.9" height="34.3" fill="#fff" stroke="#262626" stroke-width="1.9" rx="1.5"/>
<path d="M764 644.3H835" stroke="#0a8ad0" stroke-width="2.6"/>
<text x="842" y="652.3" class="lg">Error</text>
<rect x="1401" y="983.44" width="11.73" height="15.86" fill="#0072bd" stroke="#000" stroke-width="2.1"/>
<rect x="1412.73" y="991.37" width="11.73" height="7.93" fill="#0072bd" stroke="#000" stroke-width="2.1"/>
<rect x="1424.46" y="991.37" width="11.73" height="7.93" fill="#0072bd" stroke="#000" stroke-width="2.1"/>
<rect x="1436.19" y="935.86" width="11.73" height="63.44" fill="#0072bd" stroke="#000" stroke-width="2.1"/>
<rect x="1447.92" y="920" width="11.73" height="79.3" fill="#0072bd" stroke="#000" stroke-width="2.1"/>
<rect x="1459.65" y="912.07" width="11.73" height="87.23" fill="#0072bd" stroke="#000" stroke-width="2.1"/>
<rect x="1471.38" y="896.21" width="11.73" height="103.09" fill="#0072bd" stroke="#000" stroke-width="2.1"/>
<rect x="1483.11" y="880.35" width="11.73" height="118.95" fill="#0072bd" stroke="#000" stroke-width="2.1"/>
<rect x="1494.84" y="856.56" width="11.73" height="142.74" fill="#0072bd" stroke="#000" stroke-width="2.1"/>
<rect x="1506.57" y="872.42" width="11.73" height="126.88" fill="#0072bd" stroke="#000" stroke-width="2.1"/>
<rect x="1518.3" y="848.63" width="11.73" height="150.67" fill="#0072bd" stroke="#000" stroke-width="2.1"/>
<rect x="1530.03" y="824.84" width="11.73" height="174.46" fill="#0072bd" stroke="#000" stroke-width="2.1"/>
<rect x="1541.76" y="808.98" width="11.73" height="190.32" fill="#0072bd" stroke="#000" stroke-width="2.1"/>
<rect x="1553.49" y="729.68" width="11.73" height="269.62" fill="#0072bd" stroke="#000" stroke-width="2.1"/>
<rect x="1565.22" y="777.26" width="11.73" height="222.04" fill="#0072bd" stroke="#000" stroke-width="2.1"/>
<rect x="1576.95" y="618.66" width="11.73" height="380.64" fill="#0072bd" stroke="#000" stroke-width="2.1"/>
<rect x="1588.68" y="610.73" width="11.73" height="388.57" fill="#0072bd" stroke="#000" stroke-width="2.1"/>
<rect x="1600.41" y="634.52" width="11.73" height="364.78" fill="#0072bd" stroke="#000" stroke-width="2.1"/>
<rect x="1612.14" y="737.61" width="11.73" height="261.69" fill="#0072bd" stroke="#000" stroke-width="2.1"/>
<rect x="1623.87" y="690.03" width="11.73" height="309.27" fill="#0072bd" stroke="#000" stroke-width="2.1"/>
<rect x="1635.6" y="840.7" width="11.73" height="158.6" fill="#0072bd" stroke="#000" stroke-width="2.1"/>
<rect x="1647.33" y="864.49" width="11.73" height="134.81" fill="#0072bd" stroke="#000" stroke-width="2.1"/>
<rect x="1659.06" y="816.91" width="11.73" height="182.39" fill="#0072bd" stroke="#000" stroke-width="2.1"/>
<rect x="1670.79" y="888.28" width="11.73" height="111.02" fill="#0072bd" stroke="#000" stroke-width="2.1"/>
<rect x="1682.52" y="816.91" width="11.73" height="182.39" fill="#0072bd" stroke="#000" stroke-width="2.1"/>
<rect x="1694.25" y="864.49" width="11.73" height="134.81" fill="#0072bd" stroke="#000" stroke-width="2.1"/>
<rect x="1705.98" y="864.49" width="11.73" height="134.81" fill="#0072bd" stroke="#000" stroke-width="2.1"/>
<rect x="1717.71" y="951.72" width="11.73" height="47.58" fill="#0072bd" stroke="#000" stroke-width="2.1"/>
<rect x="1729.44" y="943.79" width="11.73" height="55.51" fill="#0072bd" stroke="#000" stroke-width="2.1"/>
<rect x="1752.9" y="983.44" width="11.73" height="15.86" fill="#0072bd" stroke="#000" stroke-width="2.1"/>
<rect x="1764.63" y="991.37" width="11.73" height="7.93" fill="#0072bd" stroke="#000" stroke-width="2.1"/>
<rect x="1788.09" y="991.37" width="11.73" height="7.93" fill="#0072bd" stroke="#000" stroke-width="2.1"/>
<rect x="1835.01" y="991.37" width="11.73" height="7.93" fill="#0072bd" stroke="#000" stroke-width="2.1"/>
<rect x="1858.47" y="983.44" width="11.73" height="15.86" fill="#0072bd" stroke="#000" stroke-width="2.1"/>
<rect x="1881.93" y="943.79" width="11.73" height="55.51" fill="#0072bd" stroke="#000" stroke-width="2.1"/>
<rect x="1893.66" y="975.51" width="11.73" height="23.79" fill="#0072bd" stroke="#000" stroke-width="2.1"/>
<rect x="1905.39" y="967.58" width="11.73" height="31.72" fill="#0072bd" stroke="#000" stroke-width="2.1"/>
<rect x="1917.12" y="991.37" width="11.73" height="7.93" fill="#0072bd" stroke="#000" stroke-width="2.1"/>
<rect x="1928.85" y="983.44" width="11.73" height="15.86" fill="#0072bd" stroke="#000" stroke-width="2.1"/>
<rect x="1940.58" y="967.58" width="11.73" height="31.72" fill="#0072bd" stroke="#000" stroke-width="2.1"/>
<rect x="1952.31" y="991.37" width="11.73" height="7.93" fill="#0072bd" stroke="#000" stroke-width="2.1"/>
<rect x="1964.04" y="983.44" width="11.73" height="15.86" fill="#0072bd" stroke="#000" stroke-width="2.1"/>
<rect x="1975.77" y="983.44" width="11.73" height="15.86" fill="#0072bd" stroke="#000" stroke-width="2.1"/>
<polyline points="1314.16,996.72 1319.07,996.31 1323.98,995.84 1328.89,995.3 1333.8,994.7 1338.71,994.01 1343.62,993.24 1348.53,992.37 1353.45,991.4 1358.36,990.32 1363.27,989.11 1368.18,987.76 1373.09,986.28 1378,984.64 1382.91,982.83 1387.82,980.84 1392.73,978.67 1397.64,976.3 1402.55,973.72 1407.46,970.93 1412.38,967.9 1417.29,964.64 1422.2,961.14 1427.11,957.39 1432.02,953.39 1436.93,949.13 1441.84,944.61 1446.75,939.83 1451.66,934.8 1456.57,929.51 1461.48,923.98 1466.39,918.22 1471.3,912.23 1476.22,906.03 1481.13,899.65 1486.04,893.09 1490.95,886.38 1495.86,879.54 1500.77,872.62 1505.68,865.62 1510.59,858.59 1515.5,851.56 1520.41,844.57 1525.32,837.65 1530.23,830.84 1535.15,824.18 1540.06,817.72 1544.97,811.49 1549.88,805.52 1554.79,799.87 1559.7,794.57 1564.61,789.65 1569.52,785.14 1574.43,781.09 1579.34,777.52 1584.25,774.45 1589.16,771.9 1594.08,769.9 1598.99,768.47 1603.9,767.6 1608.81,767.31 1613.72,767.6 1618.63,768.47 1623.54,769.9 1628.45,771.9 1633.36,774.45 1638.27,777.52 1643.18,781.09 1648.09,785.14 1653.01,789.65 1657.92,794.57 1662.83,799.87 1667.74,805.52 1672.65,811.49 1677.56,817.72 1682.47,824.18 1687.38,830.84 1692.29,837.65 1697.2,844.57 1702.11,851.56 1707.02,858.59 1711.94,865.62 1716.85,872.62 1721.76,879.54 1726.67,886.38 1731.58,893.09 1736.49,899.65 1741.4,906.03 1746.31,912.23 1751.22,918.22 1756.13,923.98 1761.04,929.51 1765.95,934.8 1770.86,939.83 1775.78,944.61 1780.69,949.13 1785.6,953.39 1790.51,957.39 1795.42,961.14 1800.33,964.64 1805.24,967.9 1810.15,970.93 1815.06,973.72 1819.97,976.3 1824.88,978.67 1829.79,980.84 1834.71,982.83 1839.62,984.64 1844.53,986.28 1849.44,987.76 1854.35,989.11 1859.26,990.32 1864.17,991.4 1869.08,992.37 1873.99,993.24 1878.9,994.01 1883.81,994.7 1888.72,995.3 1893.64,995.84 1898.55,996.31 1903.46,996.72" fill="none" stroke="#ff0000" stroke-width="4.8" stroke-linejoin="round" stroke-opacity="1"/>
<path d="M1322.05 999.3v-7.5M1322.05 602.8v7.5M1464.8 999.3v-7.5M1464.8 602.8v7.5M1607.56 999.3v-7.5M1607.56 602.8v7.5M1750.31 999.3v-7.5M1750.31 602.8v7.5M1893.06 999.3v-7.5M1893.06 602.8v7.5M1179.3 920h7.5M1995.7 920h-7.5M1179.3 840.7h7.5M1995.7 840.7h-7.5M1179.3 761.4h7.5M1995.7 761.4h-7.5M1179.3 682.1h7.5M1995.7 682.1h-7.5" stroke="#262626" stroke-width="1.9" fill="none"/>
<rect x="1179.3" y="602.8" width="816.4" height="396.5" fill="none" stroke="#262626" stroke-width="1.9" stroke-linejoin="round"/>
<text transform="translate(1177.8 1036) scale(0.91 1)" text-anchor="middle" class="tk">-15</text>
<text transform="translate(1320.55 1036) scale(0.91 1)" text-anchor="middle" class="tk">-10</text>
<text transform="translate(1463.3 1036) scale(0.91 1)" text-anchor="middle" class="tk">-5</text>
<text transform="translate(1606.06 1036) scale(0.91 1)" text-anchor="middle" class="tk">0</text>
<text transform="translate(1748.81 1036) scale(0.91 1)" text-anchor="middle" class="tk">5</text>
<text transform="translate(1891.56 1036) scale(0.91 1)" text-anchor="middle" class="tk">10</text>
<text transform="translate(1168 1009.9) scale(0.91 1)" text-anchor="end" class="tk">0</text>
<text transform="translate(1168 930.6) scale(0.91 1)" text-anchor="end" class="tk">10</text>
<text transform="translate(1168 851.3) scale(0.91 1)" text-anchor="end" class="tk">20</text>
<text transform="translate(1168 772) scale(0.91 1)" text-anchor="end" class="tk">30</text>
<text transform="translate(1168 692.7) scale(0.91 1)" text-anchor="end" class="tk">40</text>
<text transform="translate(1168 613.4) scale(0.91 1)" text-anchor="end" class="tk">50</text>
<text x="1587.5" y="590" text-anchor="middle" class="tt" >Error Mean = 0.043822, Error St.D. = 3.4401</text>
<text x="1587.5" y="1069.5" text-anchor="middle" class="lb" >Error</text>
<text transform="translate(1127.5 801.05) rotate(-90)" text-anchor="middle" class="lb">Frequency</text>
<path d="M720.71 1282.2V1682.2M1340.32 1282.2V1682.2M1959.93 1282.2V1682.2M101.1 1602.2H2009.5M101.1 1522.2H2009.5M101.1 1442.2H2009.5M101.1 1362.2H2009.5" stroke="#e4e4e4" stroke-width="1.8" fill="none"/>
<polyline points="113.49,1571 125.88,1418.2 138.28,1506.2 150.67,1541.8 163.06,1441.4 175.45,1547.8 187.85,1421.8 200.24,1511.8 212.63,1398.2 225.02,1570.2 237.41,1551 249.81,1445.4 262.2,1563 274.59,1528.6 286.98,1557.4 299.38,1590.2 311.77,1563 324.16,1591.8 336.55,1570.2 348.94,1496.6 361.34,1551 373.73,1524.6 386.12,1540.6 398.51,1350.2 410.91,1355.8 423.3,1546.2 435.69,1583.8 448.08,1561 460.47,1551 472.87,1571.8 485.26,1563 497.65,1568.6 510.04,1381.4 522.44,1400.6 534.83,1566.52 547.22,1551.8 559.61,1563 572,1561 584.4,1398.2 596.79,1456.6 609.18,1387 621.57,1584.6 633.96,1571.4 646.36,1416.6 658.75,1445.4 671.14,1483.8 683.53,1570.2 695.93,1564.6 708.32,1484.6 720.71,1517.4 733.1,1400.6 745.49,1427 757.89,1566.2 770.28,1409.4 782.67,1522.2 795.06,1446.6 807.46,1458.2 819.85,1443.8 832.24,1369.4 844.63,1411 857.02,1394.2 869.42,1395 881.81,1371.8 894.2,1553.4 906.59,1567.4 918.99,1476.6 931.38,1419.8 943.77,1473.4 956.16,1568.6 968.55,1373.4 980.95,1439.8 993.34,1519 1005.73,1559 1018.12,1410.2 1030.52,1388.6 1042.91,1411 1055.3,1559 1067.69,1435 1080.08,1543 1092.48,1561 1104.87,1553.4 1117.26,1544.6 1129.65,1458.2 1142.05,1408.6 1154.44,1319.8 1166.83,1537.4 1179.22,1433.72 1191.61,1573.8 1204.01,1563 1216.4,1432.6 1228.79,1562.2 1241.18,1407 1253.58,1436.6 1265.97,1573.8 1278.36,1543 1290.75,1511.8 1303.14,1359 1315.54,1551.8 1327.93,1577.4 1340.32,1411 1352.71,1408.6 1365.11,1554.2 1377.5,1462.2 1389.89,1419.8 1402.28,1471 1414.67,1411 1427.07,1411 1439.46,1401.4 1451.85,1383 1464.24,1549.4 1476.64,1322.2 1489.03,1553.4 1501.42,1447.8 1513.81,1566.52 1526.2,1551 1538.6,1479.8 1550.99,1579.8 1563.38,1394.2 1575.77,1383 1588.16,1546.2 1600.56,1583.8 1612.95,1557.4 1625.34,1391 1637.73,1522.2 1650.13,1552.6 1662.52,1461.4 1674.91,1559.8 1687.3,1586.2 1699.69,1588.6 1712.09,1423 1724.48,1548.6 1736.87,1547.4 1749.26,1475.8 1761.66,1451.8 1774.05,1463 1786.44,1399 1798.83,1555 1811.22,1386.2 1823.62,1529.4 1836.01,1542.2 1848.4,1429.4 1860.79,1382.2 1873.19,1553.72 1885.58,1455.8 1897.97,1467 1910.36,1536.6 1922.75,1387 1935.15,1543 1947.54,1575 1959.93,1566.2 1972.32,1439.8 1984.72,1553.72 1997.11,1431.8 2009.5,1372.6" fill="none" stroke="#0000ff" stroke-width="2.0" stroke-linejoin="round" stroke-opacity="1"/>
<polyline points="113.49,1575.4 125.88,1403.4 138.28,1523.56 150.67,1551.16 163.06,1439.64 175.45,1553.32 187.85,1433.8 200.24,1470.68 212.63,1393 225.02,1573.4 237.41,1549.64 249.81,1431 262.2,1557.8 274.59,1558.6 286.98,1572.04 299.38,1585.4 311.77,1573.08 324.16,1590.44 336.55,1573 348.94,1483.8 361.34,1551.16 373.73,1538.12 386.12,1550.28 398.51,1437.88 410.91,1373.88 423.3,1547.08 435.69,1573.64 448.08,1558.44 460.47,1537.4 472.87,1560.84 485.26,1550.92 497.65,1550.36 510.04,1371.64 522.44,1438.2 534.83,1547.56 547.22,1553.88 559.61,1559.32 572,1574.52 584.4,1412.52 596.79,1425.4 609.18,1416.2 621.57,1580.2 633.96,1568.84 646.36,1432.44 658.75,1427.16 671.14,1448.04 683.53,1545.08 695.93,1570.44 708.32,1450.76 720.71,1536.28 733.1,1417.24 745.49,1451.96 757.89,1544.2 770.28,1411.8 782.67,1549.08 795.06,1419.96 807.46,1404.84 819.85,1430.2 832.24,1371.08 844.63,1398.92 857.02,1401.64 869.42,1406.2 881.81,1400.6 894.2,1513 906.59,1544.6 918.99,1451.48 931.38,1408.12 943.77,1445.24 956.16,1546.6 968.55,1399.16 980.95,1435 993.34,1542.12 1005.73,1572.12 1018.12,1402.36 1030.52,1419 1042.91,1410.36 1055.3,1566.44 1067.69,1411.8 1080.08,1527.88 1092.48,1561.16 1104.87,1552.04 1117.26,1550.84 1129.65,1439.96 1142.05,1405.72 1154.44,1412.12 1166.83,1549 1179.22,1454.52 1191.61,1566.28 1204.01,1559.32 1216.4,1431.24 1228.79,1559.32 1241.18,1402.6 1253.58,1416.84 1265.97,1580.84 1278.36,1553.48 1290.75,1520.76 1303.14,1373.64 1315.54,1551.16 1327.93,1581 1340.32,1401.64 1352.71,1428.6 1365.11,1566.6 1377.5,1458.52 1389.89,1412.28 1402.28,1417.64 1414.67,1431.4 1427.07,1398.92 1439.46,1434.44 1451.85,1378.92 1464.24,1568.68 1476.64,1412.6 1489.03,1546.68 1501.42,1423.48 1513.81,1547.56 1526.2,1552.68 1538.6,1450.52 1550.99,1576.92 1563.38,1417.32 1575.77,1414.12 1588.16,1520.36 1600.56,1573.24 1612.95,1558.68 1625.34,1391.56 1637.73,1536.12 1650.13,1562.68 1662.52,1425.64 1674.91,1559.56 1687.3,1561.08 1699.69,1586.04 1712.09,1420.84 1724.48,1537.24 1736.87,1551.4 1749.26,1443.08 1761.66,1411.08 1774.05,1443.24 1786.44,1383.48 1798.83,1534.84 1811.22,1415.4 1823.62,1551.72 1836.01,1536.6 1848.4,1417.32 1860.79,1393.08 1873.19,1560.36 1885.58,1439.16 1897.97,1425.08 1910.36,1532.92 1922.75,1416.6 1935.15,1514.12 1947.54,1579 1959.93,1541.08 1972.32,1407.08 1984.72,1565.72 1997.11,1420.12 2009.5,1403" fill="none" stroke="#ff0000" stroke-width="2.0" stroke-linejoin="round" stroke-opacity="1"/>
<path d="M720.71 1682.2v-17M720.71 1282.2v17M1340.32 1682.2v-17M1340.32 1282.2v17M1959.93 1682.2v-17M1959.93 1282.2v17M101.1 1602.2h17M2009.5 1602.2h-17M101.1 1522.2h17M2009.5 1522.2h-17M101.1 1442.2h17M2009.5 1442.2h-17M101.1 1362.2h17M2009.5 1362.2h-17" stroke="#262626" stroke-width="1.9" fill="none"/>
<rect x="101.1" y="1282.2" width="1908.4" height="400" fill="none" stroke="#262626" stroke-width="1.9" stroke-linejoin="round"/>
<text transform="translate(99.6 1718) scale(0.91 1)" text-anchor="middle" class="tk">0</text>
<text transform="translate(719.21 1718) scale(0.91 1)" text-anchor="middle" class="tk">50</text>
<text transform="translate(1338.82 1718) scale(0.91 1)" text-anchor="middle" class="tk">100</text>
<text transform="translate(1958.43 1718) scale(0.91 1)" text-anchor="middle" class="tk">150</text>
<text transform="translate(89.5 1692.8) scale(0.91 1)" text-anchor="end" class="tk">0</text>
<text transform="translate(89.5 1612.8) scale(0.91 1)" text-anchor="end" class="tk">10</text>
<text transform="translate(89.5 1532.8) scale(0.91 1)" text-anchor="end" class="tk">20</text>
<text transform="translate(89.5 1452.8) scale(0.91 1)" text-anchor="end" class="tk">30</text>
<text transform="translate(89.5 1372.8) scale(0.91 1)" text-anchor="end" class="tk">40</text>
<text transform="translate(89.5 1292.8) scale(0.91 1)" text-anchor="end" class="tk">50</text>
<text x="1055.3" y="1269" text-anchor="middle" class="tt" >Test Data</text>
<text x="1055.3" y="1754" text-anchor="middle" class="lb" >Sample Index</text>
<text transform="translate(50 1514.9) rotate(-90)" class="lb" textLength="66" lengthAdjust="spacingAndGlyphs">Value</text>
<text transform="translate(50 1434.9) rotate(-90)" class="lb" textLength="62" lengthAdjust="spacingAndGlyphs" style="fill:#111">(kW)</text>
<rect x="1828.4" y="1306.1" width="157" height="65.3" fill="#fff" stroke="#262626" stroke-width="1.9" rx="1.5"/>
<path d="M1835.4 1324.4H1907" stroke="#0000ff" stroke-width="2.2"/>
<text x="1913.9" y="1332.4" class="lg">Target</text>
<path d="M1835.4 1353.5H1907" stroke="#ff0000" stroke-width="2.2"/>
<text x="1913.9" y="1361.5" class="lg">Output</text>
<path d="M203.85 1840.5V2239.3M306.9 1840.5V2239.3M409.95 1840.5V2239.3M513 1840.5V2239.3M616.05 1840.5V2239.3M719.1 1840.5V2239.3M822.15 1840.5V2239.3M100.8 2159.54H925.2M100.8 2079.78H925.2M100.8 2000.02H925.2M100.8 1920.26H925.2" stroke="#e4e4e4" stroke-width="1.8" fill="none"/>
<polyline points="105.95,2071.01 111.11,2109.29 116.26,2045.16 121.41,2061.12 126.56,2083.29 131.72,2068.77 136.87,2055.85 142.02,2161.77 147.17,2090.15 152.32,2073.4 157.48,2082.49 162.63,2108.49 167.78,2090.15 172.94,2019.96 178.09,2050.59 183.24,2089.35 188.39,2059.68 193.55,2082.49 198.7,2074.2 203.85,2105.3 209,2079.46 214.16,2052.82 219.31,2060.48 224.46,1904.95 229.61,2043.73 234.77,2078.03 239.92,2100.04 245.07,2084.88 250.22,2106.9 255.38,2101.63 260.53,2103.87 265.68,2116.15 270.83,2099.24 275.99,2004.81 281.14,2117.59 286.29,2075.63 291.44,2087.12 296.6,2052.82 301.75,2051.23 306.9,2141.99 312.05,2021.56 317.21,2088.55 322.36,2084.88 327.51,2048.2 332.66,2116.15 337.81,2151.09 342.97,2129.87 348.12,2068.14 353.27,2147.26 358.43,2042.13 363.58,2046.6 368.73,2030.01 373.88,2123.65 379.04,2074.99 384.19,2026.18 389.34,2132.9 394.49,2186.18 399.65,2106.9 404.8,2076.43 409.95,2103.87 415.1,2064.94 420.26,2057.45 425.41,2022.35 430.56,2160.34 435.71,2125.24 440.87,2129.87 446.02,2103.07 451.17,2135.93 456.32,2123.65 461.48,2028.41 466.63,2089.35 471.78,2033.68 476.93,2053.62 482.09,2095.41 487.24,2019.16 492.39,2081.06 497.54,2064.94 502.7,2126.04 507.85,2109.93 513,2079.46 518.15,2082.49 523.3,2067.34 528.46,2116.15 533.61,2085.52 538.76,1895.69 543.91,2056.65 549.07,2038.3 554.22,2094.77 559.37,2087.12 564.52,2082.49 569.68,2085.52 574.83,2088.55 579.98,2119.18 585.14,2065.74 590.29,2058.88 595.44,2061.91 600.59,2050.59 605.75,2081.06 610.9,2072.6 616.05,2098.44 621.2,2039.9 626.36,2055.05 631.51,2087.12 636.66,2094.77 641.81,2186.18 646.97,2039.1 652.12,2103.87 657.27,2013.9 662.42,2087.92 667.58,2041.34 672.73,1899.52 677.88,2093.18 683.03,2128.27 688.19,2117.59 693.34,2076.43 698.49,2138.16 703.64,2085.52 708.8,2033.68 713.95,2017.73 719.1,2131.3 724.25,2100.84 729.4,2077.23 734.56,2078.66 739.71,2052.02 744.86,2059.68 750.01,2151.09 755.17,2080.26 760.32,2129.87 765.47,2084.88 770.62,2084.09 775.78,2102.43 780.93,2071.8 786.08,2145.02 791.24,2160.98 796.39,2119.18 801.54,2110.73 806.69,2119.98 811.85,2021.56 817,2035.27 822.15,2090.95 827.3,2103.87 832.46,2058.09 837.61,2066.54 842.76,2112.96 847.91,2163.37 853.07,2087.12 858.22,2020.76 863.37,2137.37 868.52,2071.8 873.68,2129.87 878.83,2145.02 883.98,2055.85 889.13,2103.07 894.29,2019.16" fill="none" stroke="#0a84cc" stroke-width="2.0" stroke-linejoin="round" stroke-opacity="1"/>
<path d="M203.85 2239.3v-7.5M203.85 1840.5v7.5M306.9 2239.3v-7.5M306.9 1840.5v7.5M409.95 2239.3v-7.5M409.95 1840.5v7.5M513 2239.3v-7.5M513 1840.5v7.5M616.05 2239.3v-7.5M616.05 1840.5v7.5M719.1 2239.3v-7.5M719.1 1840.5v7.5M822.15 2239.3v-7.5M822.15 1840.5v7.5M100.8 2159.54h7.5M925.2 2159.54h-7.5M100.8 2079.78h7.5M925.2 2079.78h-7.5M100.8 2000.02h7.5M925.2 2000.02h-7.5M100.8 1920.26h7.5M925.2 1920.26h-7.5" stroke="#262626" stroke-width="1.9" fill="none"/>
<rect x="100.8" y="1840.5" width="824.4" height="398.8" fill="none" stroke="#262626" stroke-width="1.9" stroke-linejoin="round"/>
<text transform="translate(99.3 2275) scale(0.91 1)" text-anchor="middle" class="tk">0</text>
<text transform="translate(202.35 2275) scale(0.91 1)" text-anchor="middle" class="tk">20</text>
<text transform="translate(305.4 2275) scale(0.91 1)" text-anchor="middle" class="tk">40</text>
<text transform="translate(408.45 2275) scale(0.91 1)" text-anchor="middle" class="tk">60</text>
<text transform="translate(511.5 2275) scale(0.91 1)" text-anchor="middle" class="tk">80</text>
<text transform="translate(614.55 2275) scale(0.91 1)" text-anchor="middle" class="tk">100</text>
<text transform="translate(717.6 2275) scale(0.91 1)" text-anchor="middle" class="tk">120</text>
<text transform="translate(820.65 2275) scale(0.91 1)" text-anchor="middle" class="tk">140</text>
<text transform="translate(923.7 2275) scale(0.91 1)" text-anchor="middle" class="tk">160</text>
<text transform="translate(90 2249.9) scale(0.91 1)" text-anchor="end" class="tk">-10</text>
<text transform="translate(90 2170.14) scale(0.91 1)" text-anchor="end" class="tk">-5</text>
<text transform="translate(90 2090.38) scale(0.91 1)" text-anchor="end" class="tk">0</text>
<text transform="translate(90 2010.62) scale(0.91 1)" text-anchor="end" class="tk">5</text>
<text transform="translate(90 1930.86) scale(0.91 1)" text-anchor="end" class="tk">10</text>
<text transform="translate(90 1851.1) scale(0.91 1)" text-anchor="end" class="tk">15</text>
<text x="513" y="1827" text-anchor="middle" class="tt" >MAE = 2.0982, RMSE = 2.8598</text>
<text x="513" y="2311" text-anchor="middle" class="lb" >Sample Index</text>
<text transform="translate(40.5 2039.9) rotate(-90)" text-anchor="middle" class="lb">Error</text>
<rect x="761.7" y="1863" width="138.9" height="35" fill="#fff" stroke="#262626" stroke-width="1.9" rx="1.5"/>
<path d="M768 1881.4H840.3" stroke="#0a8ad0" stroke-width="2.6"/>
<text x="847.2" y="1889.4" class="lg">Error</text>
<rect x="1301.8" y="2182.21" width="13.94" height="56.99" fill="#0072bd" stroke="#000" stroke-width="2.1"/>
<rect x="1343.62" y="2210.71" width="13.94" height="28.49" fill="#0072bd" stroke="#000" stroke-width="2.1"/>
<rect x="1357.56" y="2153.72" width="13.94" height="85.48" fill="#0072bd" stroke="#000" stroke-width="2.1"/>
<rect x="1385.44" y="2153.72" width="13.94" height="85.48" fill="#0072bd" stroke="#000" stroke-width="2.1"/>
<rect x="1399.38" y="2153.72" width="13.94" height="85.48" fill="#0072bd" stroke="#000" stroke-width="2.1"/>
<rect x="1413.32" y="2153.72" width="13.94" height="85.48" fill="#0072bd" stroke="#000" stroke-width="2.1"/>
<rect x="1427.26" y="2182.21" width="13.94" height="56.99" fill="#0072bd" stroke="#000" stroke-width="2.1"/>
<rect x="1441.2" y="2011.26" width="13.94" height="227.94" fill="#0072bd" stroke="#000" stroke-width="2.1"/>
<rect x="1455.14" y="2125.23" width="13.94" height="113.97" fill="#0072bd" stroke="#000" stroke-width="2.1"/>
<rect x="1469.08" y="2096.74" width="13.94" height="142.46" fill="#0072bd" stroke="#000" stroke-width="2.1"/>
<rect x="1483.02" y="2011.26" width="13.94" height="227.94" fill="#0072bd" stroke="#000" stroke-width="2.1"/>
<rect x="1496.96" y="1982.76" width="13.94" height="256.44" fill="#0072bd" stroke="#000" stroke-width="2.1"/>
<rect x="1510.9" y="2068.24" width="13.94" height="170.96" fill="#0072bd" stroke="#000" stroke-width="2.1"/>
<rect x="1524.84" y="1982.76" width="13.94" height="256.44" fill="#0072bd" stroke="#000" stroke-width="2.1"/>
<rect x="1538.78" y="1954.27" width="13.94" height="284.93" fill="#0072bd" stroke="#000" stroke-width="2.1"/>
<rect x="1552.72" y="1840.3" width="13.94" height="398.9" fill="#0072bd" stroke="#000" stroke-width="2.1"/>
<rect x="1566.66" y="2096.74" width="13.94" height="142.46" fill="#0072bd" stroke="#000" stroke-width="2.1"/>
<rect x="1580.6" y="1954.27" width="13.94" height="284.93" fill="#0072bd" stroke="#000" stroke-width="2.1"/>
<rect x="1594.54" y="2068.24" width="13.94" height="170.96" fill="#0072bd" stroke="#000" stroke-width="2.1"/>
<rect x="1608.48" y="1982.76" width="13.94" height="256.44" fill="#0072bd" stroke="#000" stroke-width="2.1"/>
<rect x="1622.42" y="2039.75" width="13.94" height="199.45" fill="#0072bd" stroke="#000" stroke-width="2.1"/>
<rect x="1636.36" y="2182.21" width="13.94" height="56.99" fill="#0072bd" stroke="#000" stroke-width="2.1"/>
<rect x="1650.3" y="2068.24" width="13.94" height="170.96" fill="#0072bd" stroke="#000" stroke-width="2.1"/>
<rect x="1664.24" y="2153.72" width="13.94" height="85.48" fill="#0072bd" stroke="#000" stroke-width="2.1"/>
<rect x="1678.18" y="2153.72" width="13.94" height="85.48" fill="#0072bd" stroke="#000" stroke-width="2.1"/>
<rect x="1692.12" y="2125.23" width="13.94" height="113.97" fill="#0072bd" stroke="#000" stroke-width="2.1"/>
<rect x="1706.06" y="2125.23" width="13.94" height="113.97" fill="#0072bd" stroke="#000" stroke-width="2.1"/>
<rect x="1720" y="2210.71" width="13.94" height="28.49" fill="#0072bd" stroke="#000" stroke-width="2.1"/>
<rect x="1733.94" y="2210.71" width="13.94" height="28.49" fill="#0072bd" stroke="#000" stroke-width="2.1"/>
<rect x="1970.92" y="2210.71" width="13.94" height="28.49" fill="#0072bd" stroke="#000" stroke-width="2.1"/>
<rect x="1984.86" y="2182.21" width="13.94" height="56.99" fill="#0072bd" stroke="#000" stroke-width="2.1"/>
<polyline points="1232.99,2236.7 1238.41,2236.3 1243.83,2235.84 1249.26,2235.32 1254.68,2234.73 1260.1,2234.07 1265.52,2233.32 1270.94,2232.48 1276.37,2231.54 1281.79,2230.48 1287.21,2229.31 1292.63,2228.01 1298.05,2226.57 1303.47,2224.97 1308.9,2223.22 1314.32,2221.3 1319.74,2219.19 1325.16,2216.89 1330.58,2214.39 1336.01,2211.68 1341.43,2208.74 1346.85,2205.58 1352.27,2202.19 1357.69,2198.55 1363.11,2194.66 1368.54,2190.53 1373.96,2186.15 1379.38,2181.51 1384.8,2176.63 1390.22,2171.5 1395.65,2166.14 1401.07,2160.55 1406.49,2154.74 1411.91,2148.73 1417.33,2142.53 1422.75,2136.17 1428.18,2129.66 1433.6,2123.03 1439.02,2116.31 1444.44,2109.52 1449.86,2102.7 1455.29,2095.88 1460.71,2089.1 1466.13,2082.39 1471.55,2075.78 1476.97,2069.33 1482.39,2063.06 1487.82,2057.01 1493.24,2051.23 1498.66,2045.74 1504.08,2040.6 1509.5,2035.83 1514.93,2031.46 1520.35,2027.53 1525.77,2024.06 1531.19,2021.08 1536.61,2018.61 1542.04,2016.67 1547.46,2015.28 1552.88,2014.44 1558.3,2014.15 1563.72,2014.44 1569.14,2015.28 1574.57,2016.67 1579.99,2018.61 1585.41,2021.08 1590.83,2024.06 1596.25,2027.53 1601.68,2031.46 1607.1,2035.83 1612.52,2040.6 1617.94,2045.74 1623.36,2051.23 1628.78,2057.01 1634.21,2063.06 1639.63,2069.33 1645.05,2075.78 1650.47,2082.39 1655.89,2089.1 1661.32,2095.88 1666.74,2102.7 1672.16,2109.52 1677.58,2116.31 1683,2123.03 1688.42,2129.66 1693.85,2136.17 1699.27,2142.53 1704.69,2148.73 1710.11,2154.74 1715.53,2160.55 1720.96,2166.14 1726.38,2171.5 1731.8,2176.63 1737.22,2181.51 1742.64,2186.15 1748.06,2190.53 1753.49,2194.66 1758.91,2198.55 1764.33,2202.19 1769.75,2205.58 1775.17,2208.74 1780.6,2211.68 1786.02,2214.39 1791.44,2216.89 1796.86,2219.19 1802.28,2221.3 1807.7,2223.22 1813.13,2224.97 1818.55,2226.57 1823.97,2228.01 1829.39,2229.31 1834.81,2230.48 1840.24,2231.54 1845.66,2232.48 1851.08,2233.32 1856.5,2234.07 1861.92,2234.73 1867.34,2235.32 1872.77,2235.84 1878.19,2236.3 1883.61,2236.7" fill="none" stroke="#ff0000" stroke-width="4.8" stroke-linejoin="round" stroke-opacity="1"/>
<path d="M1261.4 2239.2v-7.5M1261.4 1840.3v7.5M1337.11 2239.2v-7.5M1337.11 1840.3v7.5M1412.81 2239.2v-7.5M1412.81 1840.3v7.5M1488.51 2239.2v-7.5M1488.51 1840.3v7.5M1564.21 2239.2v-7.5M1564.21 1840.3v7.5M1639.92 2239.2v-7.5M1639.92 1840.3v7.5M1715.62 2239.2v-7.5M1715.62 1840.3v7.5M1791.32 2239.2v-7.5M1791.32 1840.3v7.5M1867.02 2239.2v-7.5M1867.02 1840.3v7.5M1942.73 2239.2v-7.5M1942.73 1840.3v7.5M1185.7 2182.21h7.5M2009.8 2182.21h-7.5M1185.7 2125.23h7.5M2009.8 2125.23h-7.5M1185.7 2068.24h7.5M2009.8 2068.24h-7.5M1185.7 2011.26h7.5M2009.8 2011.26h-7.5M1185.7 1954.27h7.5M2009.8 1954.27h-7.5M1185.7 1897.29h7.5M2009.8 1897.29h-7.5" stroke="#262626" stroke-width="1.9" fill="none"/>
<rect x="1185.7" y="1840.3" width="824.1" height="398.9" fill="none" stroke="#262626" stroke-width="1.9" stroke-linejoin="round"/>
<text transform="translate(1184.2 2275) scale(0.91 1)" text-anchor="middle" class="tk">-10</text>
<text transform="translate(1259.9 2275) scale(0.91 1)" text-anchor="middle" class="tk">-8</text>
<text transform="translate(1335.61 2275) scale(0.91 1)" text-anchor="middle" class="tk">-6</text>
<text transform="translate(1411.31 2275) scale(0.91 1)" text-anchor="middle" class="tk">-4</text>
<text transform="translate(1487.01 2275) scale(0.91 1)" text-anchor="middle" class="tk">-2</text>
<text transform="translate(1562.71 2275) scale(0.91 1)" text-anchor="middle" class="tk">0</text>
<text transform="translate(1638.42 2275) scale(0.91 1)" text-anchor="middle" class="tk">2</text>
<text transform="translate(1714.12 2275) scale(0.91 1)" text-anchor="middle" class="tk">4</text>
<text transform="translate(1789.82 2275) scale(0.91 1)" text-anchor="middle" class="tk">6</text>
<text transform="translate(1865.52 2275) scale(0.91 1)" text-anchor="middle" class="tk">8</text>
<text transform="translate(1941.23 2275) scale(0.91 1)" text-anchor="middle" class="tk">10</text>
<text transform="translate(1174 2249.8) scale(0.91 1)" text-anchor="end" class="tk">0</text>
<text transform="translate(1174 2192.81) scale(0.91 1)" text-anchor="end" class="tk">2</text>
<text transform="translate(1174 2135.83) scale(0.91 1)" text-anchor="end" class="tk">4</text>
<text transform="translate(1174 2078.84) scale(0.91 1)" text-anchor="end" class="tk">6</text>
<text transform="translate(1174 2021.86) scale(0.91 1)" text-anchor="end" class="tk">8</text>
<text transform="translate(1174 1964.87) scale(0.91 1)" text-anchor="end" class="tk">10</text>
<text transform="translate(1174 1907.89) scale(0.91 1)" text-anchor="end" class="tk">12</text>
<text transform="translate(1174 1850.9) scale(0.91 1)" text-anchor="end" class="tk">14</text>
<text x="1597.75" y="1827" text-anchor="middle" class="tt" >Error Mean = -0.15622, Error St.D. = 2.8648</text>
<text x="1597.75" y="2309.5" text-anchor="middle" class="lb" >Error</text>
<text transform="translate(1134 2039.75) rotate(-90)" text-anchor="middle" class="lb">Frequency</text>
</g>
<text class="cap" y="1180"><tspan x="726">(</tspan><tspan font-weight="bold">c</tspan><tspan>)</tspan><tspan x="790.7" textLength="195.7" lengthAdjust="spacingAndGlyphs">GA-ANN</tspan><tspan x="995.3" textLength="33.7" lengthAdjust="spacingAndGlyphs">—</tspan><tspan x="1036.5" textLength="176" lengthAdjust="spacingAndGlyphs">Training</tspan><tspan x="1226.5" textLength="58.7" lengthAdjust="spacingAndGlyphs">CL</tspan></text>
<text class="cap" y="2420"><tspan x="735">(</tspan><tspan font-weight="bold">d</tspan><tspan>)</tspan><tspan x="806.7" textLength="195.7" lengthAdjust="spacingAndGlyphs">GA-ANN</tspan><tspan x="1012.3" textLength="33.5" lengthAdjust="spacingAndGlyphs">—</tspan><tspan x="1052.5" textLength="151" lengthAdjust="spacingAndGlyphs">Testing</tspan><tspan x="1217.6" textLength="58.7" lengthAdjust="spacingAndGlyphs">CL</tspan></text>
</svg>
</body></html>
